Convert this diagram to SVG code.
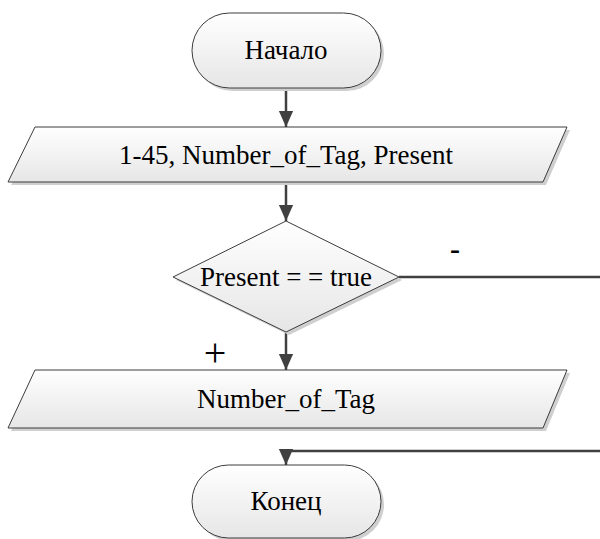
<svg xmlns="http://www.w3.org/2000/svg" width="600" height="539" viewBox="0 0 600 539">
<style>
.shape{fill:url(#g);stroke:#3c3c3c;stroke-width:1}
.shadow{fill:#cfcfcf;stroke:none}
text{font-family:'Liberation Serif','DejaVu Serif',serif;font-size:27px;fill:#000;text-anchor:middle}
.c{stroke:#404040;stroke-width:2.5;fill:none}
</style>
<defs>
<linearGradient id="g" x1="0" y1="0" x2="0" y2="1">
<stop offset="0" stop-color="#ffffff"/>
<stop offset="1" stop-color="#e6e6e6"/>
</linearGradient>
<marker id="ad" markerWidth="16" markerHeight="18" refX="18" refY="8" orient="auto" markerUnits="userSpaceOnUse" viewBox="0 0 18 16">
<path d="M0,0 L18,8 L0,16 Z" fill="#404040"/>
</marker>
</defs>
<g id="connectors">
<line class="c" x1="286" y1="88" x2="286" y2="127" marker-end="url(#ad)"/>
<line class="c" x1="286" y1="182" x2="286" y2="221" marker-end="url(#ad)"/>
<line class="c" x1="286" y1="332" x2="286" y2="370" marker-end="url(#ad)"/>
<line class="c" x1="399" y1="277" x2="600" y2="277"/>
<polyline class="c" points="600,451 286,451 286,465" marker-end="url(#ad)"/>
</g>
<g id="start">
<rect class="shadow" x="195" y="16" width="189" height="75" rx="37.5"/>
<rect class="shape" x="192" y="13" width="189" height="75" rx="37.5"/>
<text x="286" y="59">Начало</text>
</g>
<g id="input">
<polygon class="shadow" points="38,130 570,130 546,185 11,185"/>
<polygon class="shape" points="35,127 567,127 543,182 8,182"/>
<text x="286" y="164">1-45, Number_of_Tag, Present</text>
</g>
<g id="decision">
<polygon class="shadow" points="289,224 402,280 289,335 176,280"/>
<polygon class="shape" points="286,221 399,277 286,332 173,277"/>
<text x="286" y="286">Present = = true</text>
</g>
<g id="labels">
<text x="455" y="259" style="font-weight:bold;font-size:30px">-</text>
<text x="215" y="366" style="font-size:40px">+</text>
</g>
<g id="output">
<polygon class="shadow" points="38,373 570,373 546,431 11,431"/>
<polygon class="shape" points="35,370 567,370 543,428 8,428"/>
<text x="286" y="408">Number_of_Tag</text>
</g>
<g id="end">
<rect class="shadow" x="195" y="468" width="189" height="73" rx="36.5"/>
<rect class="shape" x="192" y="465" width="189" height="73" rx="36.5"/>
<text x="286" y="510">Конец</text>
</g>
</svg>
